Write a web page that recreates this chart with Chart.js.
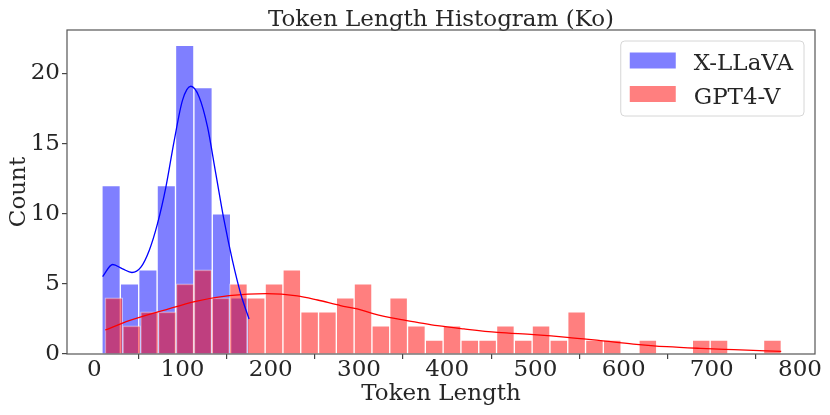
<!DOCTYPE html>
<html>
<head>
<meta charset="utf-8">
<script src="https://cdn.jsdelivr.net/npm/chart.js@4.4.1/dist/chart.umd.min.js"></script>
<style>
  html, body { margin: 0; padding: 0; background: #fff; }
</style>
</head>
<body>
<canvas id="histChart" width="830" height="415"></canvas>
<script>
const seriesNames = ["X-LLaVA", "GPT4-V"];

// histogram counts per bin
const xllavaCounts = [12, 5, 6, 12, 22, 19, 10, 4];
const gpt4vCounts = [4, 2, 3, 3, 5, 6, 4, 5, 4, 5, 6, 3, 3, 4, 5, 2, 4, 2, 1, 2,
  1, 1, 2, 1, 2, 1, 3, 1, 1, 0, 1, 0, 0, 1, 1, 0, 0, 1];
const xllavaBinStart = 8.6, xllavaBinWidth = 20.85;
const gpt4vBinStart = 12, gpt4vBinWidth = 20.18;

// kde curves
const xllavaKdeX = [9.4, 20.7, 32, 42.6, 52.8, 62.2, 71.6, 81.1, 90.5, 100, 109.4, 118.8, 128.3, 137.7, 147.1, 156.6, 166, 175.4];
const xllavaKdeY = [5.52, 6.38, 6.07, 5.81, 6.19, 7.38, 9.29, 11.9, 15.2, 18.1, 19.09, 18.33, 16.19, 12.86, 9.52, 6.66, 4.28, 2.5];
const gpt4vKdeX = [12.3, 39.5, 77.3, 115, 152.8, 195, 230, 253, 279, 298, 317, 343.5, 366, 389, 419, 457, 498, 536, 574, 611, 649, 687, 725, 778.7];
const gpt4vKdeY = [1.71, 2.38, 3.09, 3.76, 4.16, 4.31, 4.15, 3.85, 3.45, 3.21, 2.86, 2.5, 2.26, 2.02, 1.79, 1.54, 1.38, 1.19, 0.95, 0.71, 0.52, 0.4, 0.31, 0.19];

const xTicks = [0, 100, 200, 300, 400, 500, 600, 700, 800];
const yTicks = [0, 5, 10, 15, 20];

const FONT = "'DejaVu Serif', serif";
const TEXT = "#262626";
const blueFill = "rgba(0, 0, 255, 0.5)";
const redFill = "rgba(255, 0, 0, 0.5)";

// empty bins are left out so no stub is drawn on the axis
const toBars = (counts, start, width) =>
  counts.map((c, i) => ({ x: start + (i + 0.5) * width, y: c === 0 ? null : c }));
const toPoints = (xs, ys) => xs.map((x, i) => ({ x: x, y: ys[i] }));

// box round the plot area
const framePlugin = {
  id: "frame",
  afterDatasetsDraw(chart) {
    const { ctx, chartArea: a } = chart;
    ctx.save();
    ctx.strokeStyle = "#555";
    ctx.lineWidth = 1.2;
    ctx.strokeRect(a.left, a.top, a.right - a.left, a.bottom - a.top);
    ctx.restore();
  }
};

// legend in the upper right corner, inside the plot
const cornerLegend = {
  id: "cornerLegend",
  afterDraw(chart) {
    const { ctx, chartArea: a } = chart;
    const items = [
      { text: seriesNames[0], color: blueFill },
      { text: seriesNames[1], color: redFill }
    ];
    ctx.save();
    ctx.font = "23px " + FONT;
    const textW = Math.max(...items.map((it) => ctx.measureText(it.text).width));
    const w = 73 + textW + 11;
    const h = 75;
    const left = a.right - 11 - w;
    const top = a.top + 11;
    ctx.beginPath();
    ctx.roundRect(left, top, w, h, 4);
    ctx.fillStyle = "rgba(255,255,255,0.8)";
    ctx.fill();
    ctx.strokeStyle = "#d6d6d6";
    ctx.lineWidth = 1;
    ctx.stroke();
    items.forEach((it, i) => {
      const cy = top + 19.5 + i * 33.5;
      ctx.fillStyle = it.color;
      ctx.fillRect(left + 9, cy - 8, 46, 16);
      ctx.fillStyle = TEXT;
      ctx.textBaseline = "alphabetic";
      ctx.fillText(it.text, left + 73, cy + 9.5);
    });
    ctx.restore();
  }
};

const ctx = document.getElementById("histChart").getContext("2d");
new Chart(ctx, {
  type: "bar",
  data: {
    datasets: [
      {
        type: "line",
        label: seriesNames[0] + " kde",
        data: toPoints(xllavaKdeX, xllavaKdeY),
        borderColor: "#0000ff",
        borderWidth: 1.3,
        pointRadius: 0,
        cubicInterpolationMode: "monotone",
        xAxisID: "x",
        order: 0
      },
      {
        type: "line",
        label: seriesNames[1] + " kde",
        data: toPoints(gpt4vKdeX, gpt4vKdeY),
        borderColor: "#ff0000",
        borderWidth: 1.3,
        pointRadius: 0,
        cubicInterpolationMode: "monotone",
        xAxisID: "x",
        order: 1
      },
      {
        label: seriesNames[1],
        data: toBars(gpt4vCounts, gpt4vBinStart, gpt4vBinWidth),
        backgroundColor: redFill,
        borderColor: "rgba(255,255,255,0.5)",
        borderWidth: 1,
        grouped: false,
        barPercentage: 1,
        categoryPercentage: 1,
        xAxisID: "x",
        order: 2
      },
      {
        label: seriesNames[0],
        data: toBars(xllavaCounts, xllavaBinStart, xllavaBinWidth),
        backgroundColor: blueFill,
        borderColor: "rgba(255,255,255,0.5)",
        borderWidth: 1,
        grouped: false,
        barPercentage: 1,
        categoryPercentage: 1,
        xAxisID: "xb",
        order: 3
      }
    ]
  },
  options: {
    responsive: false,
    animation: false,
    events: [],
    layout: { padding: { left: 0, right: 15, top: 0, bottom: 4 } },
    scales: {
      x: {
        type: "linear",
        position: "bottom",
        min: -31,
        max: 817,
        offset: false,
        afterBuildTicks: (s) => { s.ticks = xTicks.map((v) => ({ value: v })); },
        afterFit: (s) => { s.height = 57; },
        grid: { drawOnChartArea: false, drawTicks: true, tickLength: 5, color: "#444", lineWidth: 1.2 },
        border: { display: false },
        ticks: { font: { family: FONT, size: 23 }, color: TEXT, padding: -3, maxRotation: 0 },
        title: { display: true, text: "Token Length", font: { family: FONT, size: 23 }, color: TEXT, padding: { top: 0, bottom: 3 } }
      },
      xb: {
        type: "linear",
        position: "bottom",
        min: -31,
        max: 817,
        offset: false,
        display: false,
        ticks: { stepSize: 100 }
      },
      y: {
        type: "linear",
        min: 0,
        max: 23.1,
        afterBuildTicks: (s) => { s.ticks = yTicks.map((v) => ({ value: v })); },
        afterFit: (s) => { s.width = 67; },
        grid: { drawOnChartArea: false, drawTicks: true, tickLength: 5, color: "#444", lineWidth: 1.2 },
        border: { display: false },
        ticks: { font: { family: FONT, size: 23 }, color: TEXT, padding: 2 },
        title: { display: true, text: "Count", font: { family: FONT, size: 23 }, color: TEXT, padding: { top: 5, bottom: 0 } }
      }
    },
    plugins: {
      legend: { display: false },
      tooltip: { enabled: false },
      title: {
        display: true,
        fullSize: false,
        text: "Token Length Histogram (Ko)",
        font: { family: FONT, size: 23, weight: "normal", lineHeight: 1 },
        color: TEXT,
        padding: { top: 9, bottom: -2 }
      }
    }
  },
  plugins: [framePlugin, cornerLegend]
});
</script>
</body>
</html>
